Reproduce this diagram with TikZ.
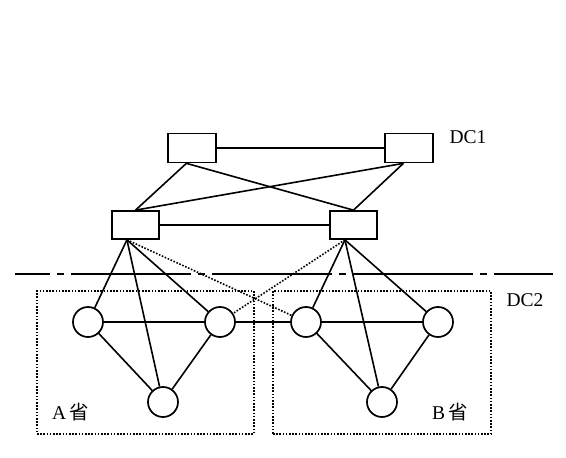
\documentclass[tikz,border=0pt]{standalone}
\usepackage{fontspec}
\setmainfont{Liberation Serif}
\newfontfamily\cjk{Noto Sans CJK SC}
\begin{document}
\begin{tikzpicture}[x=1pt,y=-1pt,
  box/.style={draw,line width=1.7pt,minimum width=48pt,minimum height=29pt,inner sep=0pt},
  nd/.style={draw,circle,line width=1.7pt,minimum size=30pt,inner sep=0pt},
  ln/.style={line width=1.6pt},
  dl/.style={line width=1.6pt,dash pattern=on 1.6pt off 1.6pt},
  region/.style={draw,line width=1.6pt,dash pattern=on 1.6pt off 1.6pt},
  lbl/.style={font=\fontsize{19.5}{22}\selectfont,inner sep=0pt}]
\useasboundingbox (0,0) rectangle (566,458);
% dc1 switches
\node[box] (t1) at (192,148) {};
\node[box] (t2) at (409,148) {};
\node[box,minimum width=47pt,minimum height=28pt] (m1) at (135.5,225) {};
\node[box,minimum width=47pt,minimum height=28pt] (m2) at (353.5,225) {};
% regions
\node[region,minimum width=217pt,minimum height=143pt,inner sep=0pt] (ra) at (145.5,362.5) {};
\node[region,minimum width=218pt,minimum height=143pt,inner sep=0pt] (rb) at (382,362.5) {};
% dc2 nodes
\node[nd] (a1) at (88,322) {};
\node[nd] (a2) at (220,322) {};
\node[nd] (a3) at (163,402) {};
\node[nd] (b1) at (306,322) {};
\node[nd] (b2) at (438,322) {};
\node[nd] (b3) at (382,402) {};
% separator
\coordinate (s1) at (15,274);
\coordinate (s2) at (553,274);
\draw[line width=1.7pt,dash pattern=on 120pt off 7pt on 7pt off 7pt,dash phase=85pt] (s1) -- (s2);
% dc1 links
\draw[ln] (t1) -- (t2);
\draw[ln] (m1) -- (m2);
\draw[ln] (t1.250) -- (m1.north);
\draw[ln] (t1.250) -- (m2.north);
\draw[ln] (t2.250) -- (m1.north);
\draw[ln] (t2.250) -- (m2.north);
% dc1 to dc2
\draw[ln] (m1.240) -- (a1);
\draw[ln] (m1.240) -- (a3);
\draw[ln] (m1.240) -- (a2);
\draw[dl] (m1.240) -- (b1);
\draw[ln] (m2.240) -- (b1);
\draw[ln] (m2.240) -- (b3);
\draw[ln] (m2.240) -- (b2);
\draw[dl] (m2.240) -- (a2);
% dc2 links
\draw[ln] (a1) -- (a2);
\draw[ln] (a2) -- (b1);
\draw[ln] (b1) -- (b2);
\draw[ln] (a1) -- (a3);
\draw[ln] (a2) -- (a3);
\draw[ln] (b1) -- (b3);
\draw[ln] (b2) -- (b3);
% labels
\node[lbl] (l1) at (468,137) {DC1};
\node[lbl] (l2) at (525,300) {DC2};
\node[lbl,anchor=west] (la) at (52,412) {A\,{\cjk 省}};
\node[lbl,anchor=west] (lb) at (432,412) {B\,{\cjk 省}};
\end{tikzpicture}
\end{document}
